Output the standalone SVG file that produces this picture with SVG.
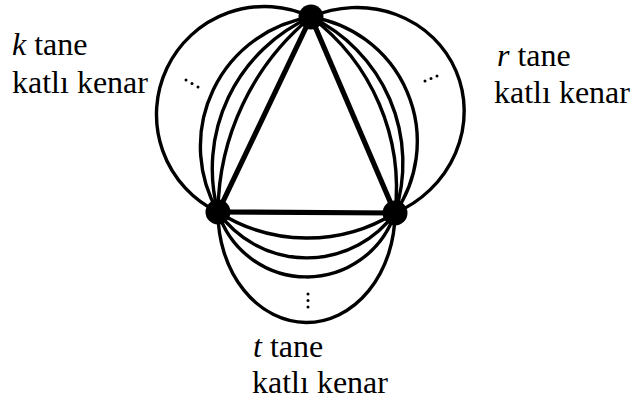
<svg xmlns="http://www.w3.org/2000/svg" width="635" height="405" viewBox="0 0 635 405">
<style>
.c{fill:none;stroke:#000;stroke-width:3.4}
.e{fill:none;stroke:#000;stroke-width:5.2}
.n{fill:#000}
.d{fill:#000}
text{font-family:"Liberation Serif","Times New Roman",serif;font-size:32px;fill:#000}
.m{font-style:italic}
</style>
<rect width="635" height="405" fill="#fff"/>
<g id="connectors">
<path class="c" d="M311 17 A108 108 0 0 0 218 212"/>
<path class="c" d="M311 17 A131 131 0 0 0 218 212"/>
<path class="c" d="M311 17 A166 166 0 0 0 218 212"/>
<path class="c" d="M311 17 A255 255 0 0 0 218 212"/>
<path class="c" d="M311 17 A106.6 112 66.8 0 1 395 213"/>
<path class="c" d="M311 17 A126 126 0 0 1 395 213"/>
<path class="c" d="M311 17 A162 162 0 0 1 395 213"/>
<path class="c" d="M311 17 A214 214 0 0 1 395 213"/>
<path class="c" d="M218 212 A88.5 110 0 0 0 395 213"/>
<path class="c" d="M218 212 A93 93 0 0 0 395 213"/>
<path class="c" d="M218 212 A109 109 0 0 0 395 213"/>
<path class="c" d="M218 212 A166 166 0 0 0 395 213"/>
<line class="e" x1="311" y1="17" x2="218" y2="212"/>
<line class="e" x1="311" y1="17" x2="395" y2="213"/>
<line class="e" x1="218" y1="212" x2="395" y2="213"/>
</g>
<g id="dots">
<circle class="d" cx="186" cy="80" r="1.5"/>
<circle class="d" cx="192" cy="83.5" r="1.5"/>
<circle class="d" cx="198" cy="87" r="1.5"/>
<circle class="d" cx="425" cy="81" r="1.5"/>
<circle class="d" cx="431" cy="78.5" r="1.5"/>
<circle class="d" cx="437" cy="76" r="1.5"/>
<circle class="d" cx="308" cy="294" r="1.5"/>
<circle class="d" cx="308" cy="300.5" r="1.5"/>
<circle class="d" cx="308" cy="307" r="1.5"/>
</g>
<g id="node-top"><circle class="n" cx="311" cy="17" r="12.5"/></g>
<g id="node-left"><circle class="n" cx="218" cy="212" r="12.5"/></g>
<g id="node-right"><circle class="n" cx="395" cy="213" r="12.5"/></g>
<g id="label-k">
<text x="12" y="55"><tspan class="m">k</tspan> tane</text>
<text x="12" y="93">katlı kenar</text>
</g>
<g id="label-r">
<text x="497" y="66"><tspan class="m">r</tspan> tane</text>
<text x="494" y="103">katlı kenar</text>
</g>
<g id="label-t">
<text x="253" y="357"><tspan class="m">t</tspan> tane</text>
<text x="252" y="393">katlı kenar</text>
</g>
</svg>
